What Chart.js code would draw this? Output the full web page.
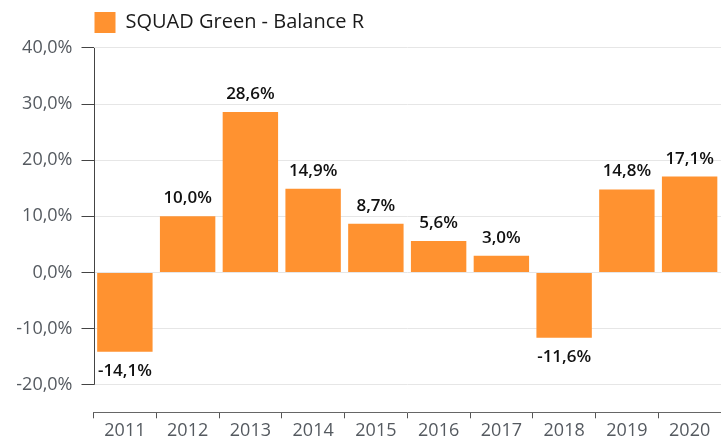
<!DOCTYPE html>
<html>
<head>
<meta charset="utf-8">
<script src="https://cdn.jsdelivr.net/npm/chart.js@4/dist/chart.umd.min.js"></script>
<style>
  html, body { margin: 0; padding: 0; background: #fff; }
  #wrap { width: 721px; height: 439px; }
</style>
</head>
<body>
<div id="wrap"><canvas id="chart" width="721" height="439"></canvas></div>
<script>
const years = ['2011', '2012', '2013', '2014', '2015', '2016', '2017', '2018', '2019', '2020'];
const returns = [-14.1, 10.0, 28.6, 14.9, 8.7, 5.6, 3.0, -11.6, 14.8, 17.1];
const seriesName = 'SQUAD Green - Balance R';
const yTicks = [-20, -10, 0, 10, 20, 30, 40];

const pct = v => v.toFixed(1).replace('.', ',') + '%';

Chart.defaults.font.family = "'Open Sans', sans-serif";

// value labels above / below each bar
const barLabels = {
    id: 'barLabels',
    afterDatasetsDraw(chart) {
        const ctx = chart.ctx;
        const meta = chart.getDatasetMeta(0);
        ctx.save();
        ctx.font = "600 17px 'Open Sans', sans-serif";
        ctx.fillStyle = '#111';
        ctx.textAlign = 'center';
        ctx.textBaseline = 'alphabetic';
        meta.data.forEach((bar, i) => {
            const v = returns[i];
            const y = v >= 0 ? bar.y - 13 : bar.y + 24;
            ctx.fillText(pct(v), bar.x, y);
        });
        ctx.restore();
    }
};

// y axis line only spans the labelled ticks
const yAxisLine = {
    id: 'yAxisLine',
    afterDraw(chart) {
        const y = chart.scales.y;
        const ctx = chart.ctx;
        const x = Math.round(chart.chartArea.left) + 0.5;
        ctx.save();
        ctx.strokeStyle = '#444';
        ctx.lineWidth = 1;
        ctx.beginPath();
        ctx.moveTo(x, y.getPixelForValue(yTicks[yTicks.length - 1]));
        ctx.lineTo(x, y.getPixelForValue(yTicks[0]));
        ctx.stroke();
        ctx.restore();
    }
};

// line the legend up with the plot area
const legendShift = {
    id: 'legendShift',
    afterLayout(chart) {
        chart.legend.left = chart.chartArea.left - 11;
    }
};

new Chart(document.getElementById('chart'), {
    type: 'bar',
    data: {
        labels: years,
        datasets: [{
            label: seriesName,
            data: returns,
            backgroundColor: '#ff9230',
            borderWidth: 0,
            barPercentage: 0.883,
            categoryPercentage: 1
        }]
    },
    options: {
        responsive: false,
        animation: false,
        layout: { padding: 0 },
        scales: {
            x: {
                grid: {
                    offset: true,
                    drawOnChartArea: false,
                    tickLength: 6,
                    tickColor: '#555'
                },
                border: { color: '#666' },
                ticks: {
                    color: '#555a60',
                    font: { size: 18 },
                    padding: 2,
                    maxRotation: 0
                },
                afterFit(scale) { scale.height = 26.7; }
            },
            y: {
                min: -24.9,
                max: 40.88,
                grid: {
                    color: '#e6e6e6',
                    tickColor: '#444',
                    tickLength: 12
                },
                border: { display: false },
                ticks: {
                    stepSize: 10,
                    color: '#555a60',
                    font: { size: 18 },
                    padding: 9,
                    callback: v => pct(v)
                },
                afterBuildTicks(scale) {
                    scale.ticks = yTicks.map(v => ({ value: v }));
                },
                afterFit(scale) { scale.width = 93.5; }
            }
        },
        plugins: {
            legend: {
                display: true,
                position: 'top',
                align: 'start',
                labels: {
                    boxWidth: 21,
                    boxHeight: 21,
                    padding: 12,
                    color: '#1a1a1a',
                    font: { size: 20 }
                }
            },
            tooltip: { enabled: false }
        }
    },
    plugins: [barLabels, yAxisLine, legendShift]
});
</script>
</body>
</html>
